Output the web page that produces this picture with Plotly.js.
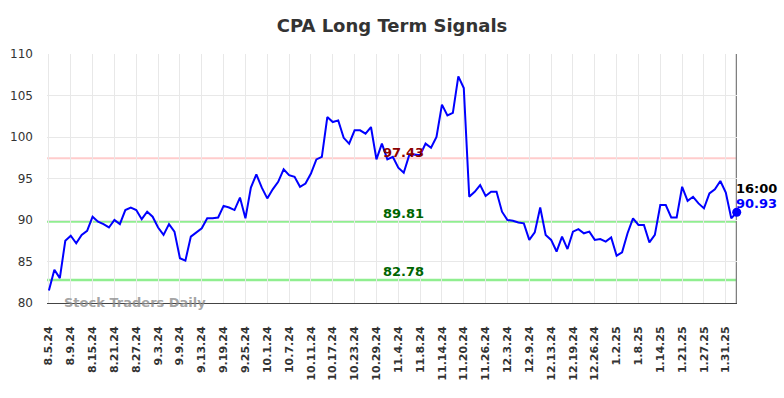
<!DOCTYPE html>
<html>
<head>
<meta charset="utf-8">
<script src="https://cdn.plot.ly/plotly-3.0.1.min.js"></script>
<style>html,body{margin:0;padding:0;background:#fff;}#chart{width:784px;height:398px;}</style>
</head>
<body>
<div id="chart"></div>
<script>
const dates = [
 "8.5.24","8.6.24","8.7.24","8.8.24","8.9.24","8.12.24","8.13.24","8.14.24","8.15.24","8.16.24",
 "8.19.24","8.20.24","8.21.24","8.22.24","8.23.24","8.26.24","8.27.24","8.28.24","8.29.24","8.30.24",
 "9.3.24","9.4.24","9.5.24","9.6.24","9.9.24","9.10.24","9.11.24","9.12.24","9.13.24","9.16.24",
 "9.17.24","9.18.24","9.19.24","9.20.24","9.23.24","9.24.24","9.25.24","9.26.24","9.27.24","9.30.24",
 "10.1.24","10.2.24","10.3.24","10.4.24","10.7.24","10.8.24","10.9.24","10.10.24","10.11.24","10.14.24",
 "10.15.24","10.16.24","10.17.24","10.18.24","10.21.24","10.22.24","10.23.24","10.24.24","10.25.24","10.28.24",
 "10.29.24","10.30.24","10.31.24","11.1.24","11.4.24","11.5.24","11.6.24","11.7.24","11.8.24","11.11.24",
 "11.12.24","11.13.24","11.14.24","11.15.24","11.18.24","11.19.24","11.20.24","11.21.24","11.22.24","11.25.24",
 "11.26.24","11.27.24","11.29.24","12.2.24","12.3.24","12.4.24","12.5.24","12.6.24","12.9.24","12.10.24",
 "12.11.24","12.12.24","12.13.24","12.16.24","12.17.24","12.18.24","12.19.24","12.20.24","12.23.24","12.24.24",
 "12.26.24","12.27.24","12.30.24","12.31.24","1.2.25","1.3.25","1.6.25","1.7.25","1.8.25","1.9.25",
 "1.10.25","1.13.25","1.14.25","1.15.25","1.16.25","1.17.25","1.21.25","1.22.25","1.23.25","1.24.25",
 "1.27.25","1.28.25","1.29.25","1.30.25","1.31.25","2.3.25","2.4.25"
];
const prices = [
 81.5,84.0,83.0,87.5,88.1,87.2,88.2,88.7,90.4,89.8,
 89.5,89.1,90.0,89.5,91.2,91.5,91.2,90.1,91.0,90.4,
 89.1,88.2,89.5,88.6,85.4,85.1,88.0,88.5,89.0,90.2,
 90.2,90.3,91.7,91.5,91.2,92.7,90.2,93.9,95.5,93.9,
 92.6,93.7,94.6,96.1,95.4,95.2,94.0,94.4,95.6,97.3,
 97.6,102.4,101.8,102.0,99.9,99.2,100.8,100.8,100.4,101.2,
 97.3,99.2,97.3,97.6,96.3,95.7,97.8,97.9,97.8,99.2,
 98.7,100.0,103.9,102.6,102.9,107.3,105.9,92.8,93.4,94.2,
 92.9,93.4,93.4,91.0,90.0,89.9,89.7,89.6,87.6,88.5,
 91.5,88.2,87.6,86.2,88.0,86.5,88.6,88.9,88.4,88.6,
 87.6,87.7,87.4,87.9,85.7,86.1,88.4,90.2,89.4,89.4,
 87.3,88.2,91.8,91.8,90.3,90.3,94.0,92.3,92.8,92.0,
 91.4,93.2,93.7,94.7,93.3,90.2,90.93
];
const tickLabels = [
 "8.5.24","8.9.24","8.15.24","8.21.24","8.27.24","9.3.24","9.9.24","9.13.24","9.19.24","9.25.24",
 "10.1.24","10.7.24","10.11.24","10.17.24","10.23.24","10.29.24","11.4.24","11.8.24","11.14.24","11.20.24",
 "11.26.24","12.3.24","12.9.24","12.13.24","12.19.24","12.26.24","1.2.25","1.8.25","1.14.25","1.21.25",
 "1.27.25","1.31.25"
];
const resistance = 97.43;
const supports = [89.81, 82.78];
const lastTime = "16:00";
const title = "CPA Long Term Signals";
const watermark = "Stock Traders Daily";

const lastIdx = prices.length - 1;
const labelIdx = 65;

const traces = [
  {x: dates, y: prices, type: 'scatter', mode: 'lines',
   line: {color: '#0000ff', width: 2}, hoverinfo: 'skip'},
  {x: [dates[lastIdx]], y: [prices[lastIdx]], type: 'scatter', mode: 'markers',
   marker: {color: '#0000ff', size: 9}, hoverinfo: 'skip', cliponaxis: false}
];

const levelShapes = [
  {type: 'line', xref: 'paper', x0: 0, x1: 1, yref: 'y', y0: resistance, y1: resistance,
   line: {color: '#ffcccc', width: 2}, layer: 'below'}
].concat(supports.map(v => ({type: 'line', xref: 'paper', x0: 0, x1: 1, yref: 'y', y0: v, y1: v,
   line: {color: '#90ee90', width: 2.5}, layer: 'below'})));
levelShapes.push({type: 'line', xref: 'x', x0: dates[lastIdx], x1: dates[lastIdx], yref: 'paper', y0: 0, y1: 1,
   line: {color: '#808080', width: 2}, layer: 'below'});

const annFont = {family: 'DejaVu Sans', size: 13, weight: 'bold'};
const annotations = [
  {x: dates[labelIdx], y: resistance, xref: 'x', yref: 'y', text: resistance.toFixed(2), showarrow: false,
   yanchor: 'bottom', yshift: -4, font: Object.assign({}, annFont, {color: '#8b0000'})},
].concat(supports.map(v => ({x: dates[labelIdx], y: v, xref: 'x', yref: 'y', text: v.toFixed(2), showarrow: false,
   yanchor: 'bottom', yshift: -1, font: Object.assign({}, annFont, {color: '#006400'})})));
annotations.push(
  {x: dates[lastIdx], y: prices[lastIdx], xref: 'x', yref: 'y', text: lastTime, showarrow: false,
   xanchor: 'left', yanchor: 'middle', xshift: -3, yshift: 24, font: Object.assign({}, annFont, {color: '#000000'})},
  {x: dates[lastIdx], y: prices[lastIdx], xref: 'x', yref: 'y', text: prices[lastIdx].toFixed(2), showarrow: false,
   xanchor: 'left', yanchor: 'middle', xshift: -3, yshift: 9, font: Object.assign({}, annFont, {color: '#0000ff'})},
  {x: 0.127, y: 80, xref: 'paper', yref: 'y', text: watermark, showarrow: false,
   xanchor: 'center', yanchor: 'middle', yshift: 1,
   font: {family: 'DejaVu Sans', size: 13, weight: 'bold', color: 'rgba(140,140,140,0.8)'}}
);

const tickVals = dates.filter((d, i) => i % 4 === 0);

const layout = {
  width: 784, height: 398,
  margin: {l: 47, r: 47, t: 54, b: 95},
  paper_bgcolor: '#ffffff', plot_bgcolor: '#ffffff',
  showlegend: false,
  font: {family: 'DejaVu Sans', color: '#333333'},
  title: {text: title, x: 0.5, xanchor: 'center', y: 1 - 26/398, yanchor: 'middle', yref: 'container',
          font: {family: 'DejaVu Sans', size: 18, weight: 'bold', color: '#333333'}},
  xaxis: {type: 'category', range: [-0.35, lastIdx + 0.05], tickmode: 'array',
          tickvals: tickVals, ticktext: tickLabels, tickangle: -90,
          tickfont: {family: 'DejaVu Sans', size: 11, weight: 'bold', color: '#333333'},
          ticks: '', ticklabelstandoff: 18,
          showgrid: true, gridcolor: '#e8e8e8', gridwidth: 1,
          showline: true, linecolor: '#444444', linewidth: 1, zeroline: false, fixedrange: true},
  yaxis: {range: [80, 110], tickmode: 'linear', tick0: 80, dtick: 5,
          tickfont: {family: 'DejaVu Sans', size: 12, color: '#333333'},
          ticks: '', ticklabelstandoff: 13,
          showgrid: true, gridcolor: '#e8e8e8', gridwidth: 1,
          showline: false, zeroline: false, fixedrange: true},
  shapes: levelShapes,
  annotations: annotations
};

Plotly.newPlot('chart', traces, layout, {displayModeBar: false, staticPlot: true});
</script>
</body>
</html>
